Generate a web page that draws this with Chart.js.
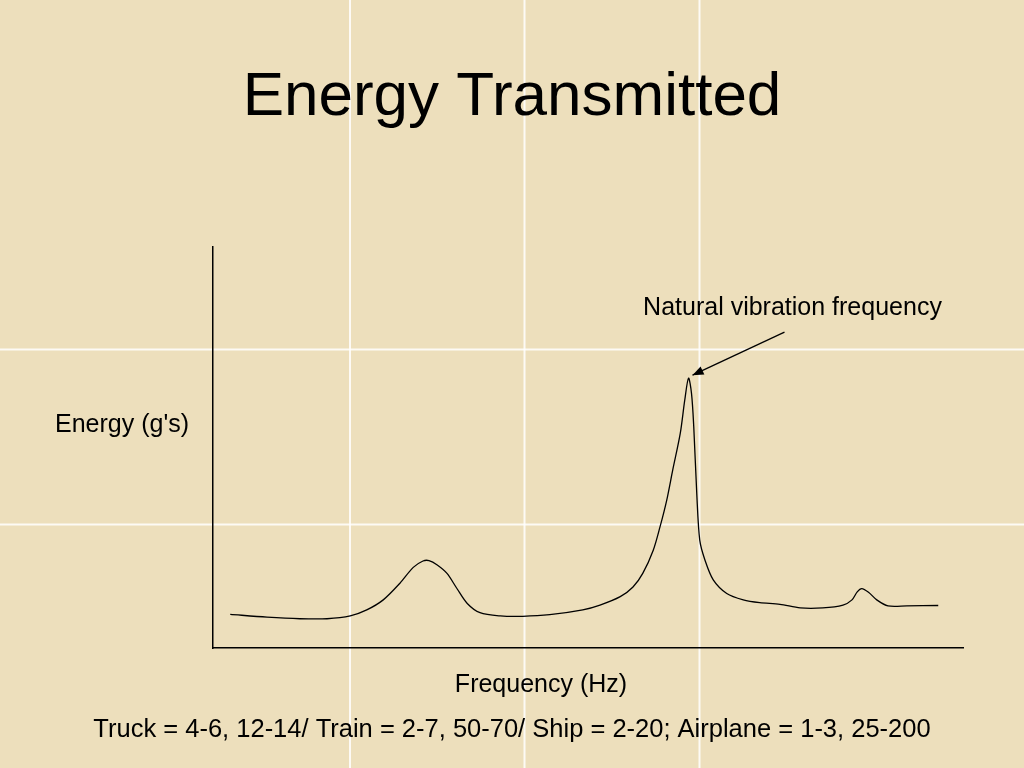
<!DOCTYPE html>
<html>
<head>
<meta charset="utf-8">
<script src="https://cdn.jsdelivr.net/npm/chart.js@4/dist/chart.umd.min.js"></script>
<style>
  html, body { margin: 0; padding: 0; background: #ECDDB9; }
  #wrap { width: 1024px; height: 768px; position: relative; }
</style>
</head>
<body>
<div id="wrap"><canvas id="c" width="1024" height="768"></canvas></div>
<script>
// Frequency (arbitrary units, 0-100 across the axis)
const frequency = [2.3, 7.2, 11.6, 15.2, 18.3, 20.5, 22.7, 24.9, 26.7, 28.0, 28.8, 29.9, 31.2, 32.5, 33.9, 35.6, 38.3, 41.3, 44.9, 49.3, 51.6, 54.3, 56.0, 57.3, 58.7, 59.6, 60.5, 61.3, 62.3, 62.9, 63.4, 63.8, 64.1, 64.5, 64.9, 65.6, 66.7, 68.5, 70.7, 72.9, 75.6, 78.3, 81.3, 84.0, 85.2, 85.9, 86.5, 87.4, 88.5, 90.0, 92.5, 96.7];
// Energy (arbitrary units, 0-10 up the axis)
const energy = [0.84, 0.77, 0.73, 0.73, 0.80, 0.95, 1.20, 1.61, 2.01, 2.17, 2.18, 2.07, 1.86, 1.49, 1.11, 0.88, 0.80, 0.79, 0.83, 0.95, 1.07, 1.28, 1.52, 1.86, 2.44, 3.02, 3.69, 4.44, 5.35, 6.18, 6.73, 6.35, 5.52, 3.86, 2.69, 2.19, 1.70, 1.36, 1.20, 1.13, 1.09, 1.00, 1.00, 1.07, 1.20, 1.40, 1.48, 1.39, 1.20, 1.05, 1.05, 1.06];

const chartTitle = 'Energy Transmitted';
const xAxisLabel = 'Frequency (Hz)';
const yAxisLabel = "Energy (g's)";
const annotationText = 'Natural vibration frequency';
const annotationPoint = { x: 63.4, y: 6.73 };
const caption = 'Truck = 4-6, 12-14/ Train = 2-7, 50-70/ Ship = 2-20; Airplane = 1-3, 25-200';

const FONT = '"Liberation Sans", Arial, Helvetica, sans-serif';

const points = frequency.map((f, i) => ({ x: f, y: energy[i] }));

const backgroundPlugin = {
  id: 'paper',
  beforeDraw(chart) {
    const ctx = chart.ctx;
    const w = chart.width, h = chart.height;
    ctx.save();
    ctx.fillStyle = '#EDDFBC';
    ctx.fillRect(0, 0, w, h);
    ctx.strokeStyle = 'rgba(255,255,255,0.85)';
    ctx.lineWidth = 2;
    [350, 524.5, 699.5].forEach(x => { ctx.beginPath(); ctx.moveTo(x, 0); ctx.lineTo(x, h); ctx.stroke(); });
    [349.5, 524.5].forEach(y => { ctx.beginPath(); ctx.moveTo(0, y); ctx.lineTo(w, y); ctx.stroke(); });
    ctx.restore();
  }
};

const labelsPlugin = {
  id: 'labels',
  afterDraw(chart) {
    const ctx = chart.ctx;
    const xs = chart.scales.x, ys = chart.scales.y;
    const area = chart.chartArea;
    ctx.save();
    ctx.fillStyle = '#000';
    ctx.font = '25px ' + FONT;
    ctx.textBaseline = 'middle';
    ctx.textAlign = 'right';
    ctx.fillText(yAxisLabel, area.left - 24, area.top + 178);
    ctx.textAlign = 'center';
    ctx.fillText(xAxisLabel, area.left + 328, area.bottom + 37);
    // annotation
    const px = xs.getPixelForValue(annotationPoint.x);
    const py = ys.getPixelForValue(annotationPoint.y);
    ctx.textAlign = 'center';
    ctx.fillText(annotationText, px + 104, py - 70);
    const sx = px + 96, sy = py - 46;
    const tx = px + 4, ty = py - 3;
    ctx.strokeStyle = '#000';
    ctx.lineWidth = 1.3;
    ctx.beginPath(); ctx.moveTo(sx, sy); ctx.lineTo(tx, ty); ctx.stroke();
    const ang = Math.atan2(ty - sy, tx - sx);
    const L = 11, W = 4.5;
    ctx.beginPath();
    ctx.moveTo(tx, ty);
    ctx.lineTo(tx - L * Math.cos(ang) + W * Math.sin(ang), ty - L * Math.sin(ang) - W * Math.cos(ang));
    ctx.lineTo(tx - L * Math.cos(ang) - W * Math.sin(ang), ty - L * Math.sin(ang) + W * Math.cos(ang));
    ctx.closePath();
    ctx.fillStyle = '#000';
    ctx.fill();
    ctx.restore();
  }
};

new Chart(document.getElementById('c'), {
  type: 'line',
  data: {
    datasets: [{
      data: points,
      borderColor: '#000',
      borderWidth: 1.3,
      pointRadius: 0,
      fill: false,
      tension: 0.3
    }]
  },
  options: {
    responsive: false,
    animation: false,
    devicePixelRatio: 1,
    layout: { padding: 0 },
    plugins: {
      legend: { display: false },
      tooltip: { enabled: false },
      title: {
        display: true,
        text: chartTitle,
        color: '#000',
        font: { family: FONT, size: 62, weight: 'normal', lineHeight: 1.2 },
        padding: { top: 61, bottom: 111.6 }
      },
      subtitle: {
        display: true,
        position: 'bottom',
        text: caption,
        color: '#000',
        font: { family: FONT, size: 25.5, weight: 'normal', lineHeight: 1.2 },
        padding: { top: 12, bottom: 22.4 }
      }
    },
    scales: {
      x: {
        type: 'linear',
        min: 0,
        max: 100,
        grid: { display: false, drawTicks: false },
        ticks: { display: false },
        border: { display: true, color: '#000', width: 1.5 },
        afterFit: (s) => { s.height = 55; }
      },
      y: {
        type: 'linear',
        min: 0,
        max: 10,
        grid: { display: false, drawTicks: false },
        ticks: { display: false },
        border: { display: true, color: '#000', width: 1.5 },
        afterFit: (s) => { s.width = 213; }
      },
      yRight: {
        type: 'linear',
        position: 'right',
        min: 0,
        max: 1,
        grid: { display: false, drawTicks: false },
        ticks: { display: false },
        border: { display: false },
        afterFit: (s) => { s.width = 61; }
      }
    }
  },
  plugins: [backgroundPlugin, labelsPlugin]
});
</script>
</body>
</html>
